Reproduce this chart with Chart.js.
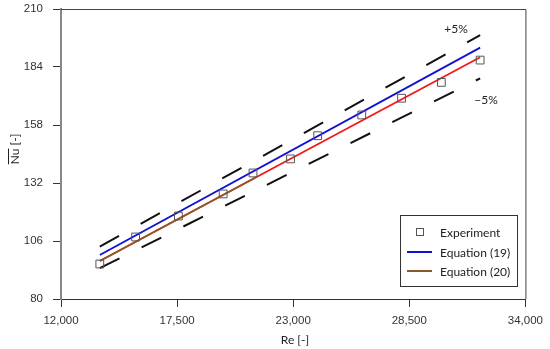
<!DOCTYPE html>
<html>
<head>
<meta charset="utf-8">
<script src="https://cdn.jsdelivr.net/npm/chart.js@4"></script>
<style>
  html, body { margin: 0; padding: 0; background: #fff; }
</style>
</head>
<body>
<canvas id="chart" width="550" height="349"></canvas>
<script>
// measured values
const reExp = [13838, 15535, 17561, 19682, 21096, 22873, 24160, 26248, 28133, 30018, 31856];
const nuExp = [95.7, 107.8, 117.2, 127.1, 136.5, 142.8, 153.2, 162.5, 170.0, 177.1, 187.1];

const reLine = [13838, 31856];
const nuEq19 = [99.7, 192.7];
const nuEq20 = [97.0, 188.4];
const reEq20Brown = [13838, 21200];
const nuEq20Brown = [97.0, 134.35];
const nuPlus5 = [103.5, 198.3];
const nuMinus5 = [93.8, 178.9];

const xTicks = [12000, 17500, 23000, 28500, 34000];
const yTicks = [80, 106, 132, 158, 184, 210];

const toPoints = (xs, ys) => xs.map((x, i) => ({ x: x, y: ys[i] }));

const labelFont = '12px Lato';

// frame, axis titles, +/-5% labels and legend box
const extras = {
  id: 'extras',
  afterDraw(chart) {
    const ctx = chart.ctx;
    const a = chart.chartArea;
    ctx.save();
    ctx.strokeStyle = '#444';
    ctx.lineWidth = 1;
    ctx.beginPath();
    ctx.moveTo(a.left, a.top + 0.5);
    ctx.lineTo(a.right + 0.5, a.top + 0.5);
    ctx.lineTo(a.right + 0.5, a.bottom);
    ctx.stroke();

    ctx.fillStyle = '#222';
    ctx.font = labelFont;
    ctx.textAlign = 'center';
    ctx.textBaseline = 'middle';
    ctx.fillText('Re [-]', 295, 340);
    ctx.fillText('+5%', 456, 29);
    ctx.fillText('\u22125%', 486, 100);

    // y title with overline on Nu
    ctx.save();
    ctx.translate(15, 149);
    ctx.rotate(-Math.PI / 2);
    const full = 'Nu [-]';
    const w = ctx.measureText(full).width;
    const wNu = ctx.measureText('Nu').width;
    ctx.fillText(full, 0, 0);
    ctx.strokeStyle = '#222';
    ctx.beginPath();
    ctx.moveTo(-w / 2, -6.5);
    ctx.lineTo(-w / 2 + wNu, -6.5);
    ctx.stroke();
    ctx.restore();

    // legend
    ctx.strokeStyle = '#333';
    ctx.lineWidth = 1;
    ctx.strokeRect(400.5, 215.5, 117, 71);
    ctx.strokeStyle = '#555';
    ctx.strokeRect(416.5, 228.5, 7, 7);
    ctx.lineWidth = 2;
    ctx.strokeStyle = '#1010d0';
    ctx.beginPath(); ctx.moveTo(407, 252); ctx.lineTo(432, 252); ctx.stroke();
    ctx.strokeStyle = '#8b5a2b';
    ctx.beginPath(); ctx.moveTo(407, 271); ctx.lineTo(432, 271); ctx.stroke();
    ctx.textAlign = 'left';
    ctx.fillStyle = '#222';
    ctx.fillText('Experiment', 440, 233);
    ctx.fillText('Equation (19)', 440, 253);
    ctx.fillText('Equation (20)', 440, 272);
    ctx.restore();
  }
};

new Chart(document.getElementById('chart'), {
  type: 'scatter',
  data: {
    datasets: [
      {
        label: 'Experiment',
        data: toPoints(reExp, nuExp),
        pointStyle: 'rect',
        pointRadius: 5.5,
        borderColor: '#555',
        backgroundColor: 'rgba(0,0,0,0)',
        borderWidth: 1,
        showLine: false
      },
      {
        label: 'Equation (20)',
        data: toPoints(reEq20Brown, nuEq20Brown),
        showLine: true,
        borderColor: '#8b5a2b',
        borderWidth: 1.8,
        pointRadius: 0
      },
      {
        label: 'Equation (19)',
        data: toPoints(reLine, nuEq19),
        showLine: true,
        borderColor: '#1010d0',
        borderWidth: 1.8,
        pointRadius: 0
      },
      {
        label: 'Equation (20) red',
        data: toPoints(reLine, nuEq20),
        showLine: true,
        borderColor: '#f01818',
        borderWidth: 1.8,
        pointRadius: 0
      },
      {
        label: '+5%',
        data: toPoints(reLine, nuPlus5),
        showLine: true,
        borderColor: '#111',
        borderWidth: 2,
        borderDash: [22, 24.7],
        pointRadius: 0
      },
      {
        label: '-5%',
        data: toPoints(reLine, nuMinus5),
        showLine: true,
        borderColor: '#111',
        borderWidth: 2,
        borderDash: [22, 24.7],
        pointRadius: 0
      }
    ]
  },
  options: {
    responsive: false,
    animation: false,
    devicePixelRatio: 1,
    layout: { padding: { top: 9, right: 22, left: 0, bottom: 0 } },
    plugins: {
      legend: { display: false },
      tooltip: { enabled: false }
    },
    scales: {
      x: {
        type: 'linear',
        min: 12000,
        max: 34000,
        afterBuildTicks: s => { s.ticks = xTicks.map(v => ({ value: v })); },
        afterFit: s => { s.height = 50; },
        ticks: {
          callback: v => v.toLocaleString('en-US'),
          font: { family: 'Liberation Sans', size: 11.5 },
          color: '#333',
          padding: 7,
          maxRotation: 0
        },
        grid: { drawOnChartArea: false, tickLength: 8, color: '#333' },
        border: { color: '#333', width: 1 }
      },
      y: {
        type: 'linear',
        min: 80,
        max: 210,
        afterBuildTicks: s => { s.ticks = yTicks.map(v => ({ value: v })); },
        afterFit: s => { s.width = 61; s.paddingTop = 0; s.paddingBottom = 0; },
        ticks: {
          font: { family: 'Liberation Sans', size: 11.5 },
          color: '#333',
          padding: 10
        },
        grid: { drawOnChartArea: false, tickLength: 8, color: '#333' },
        border: { color: '#888', width: 2 }
      }
    }
  },
  plugins: [extras]
});
</script>
</body>
</html>
